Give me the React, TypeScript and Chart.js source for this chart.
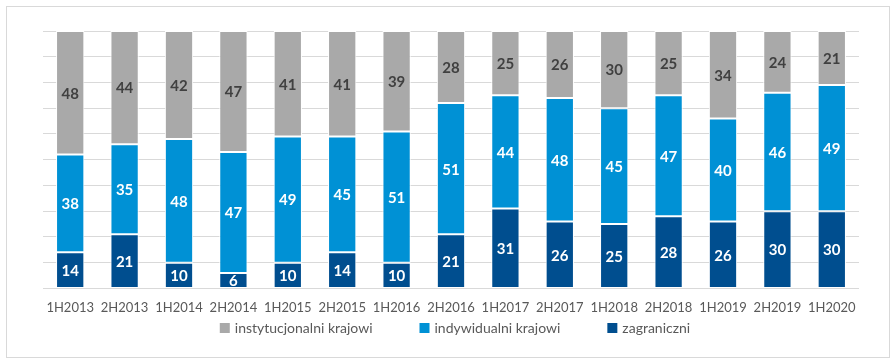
import React, { useEffect, useRef } from "react";
import { Chart, registerables } from "chart.js";

Chart.register(...registerables);

const categories = ["1H2013","2H2013","1H2014","2H2014","1H2015","2H2015","1H2016","2H2016","1H2017","2H2017","1H2018","2H2018","1H2019","2H2019","1H2020"];
const zagraniczni = [14,21,10,6,10,14,10,21,31,26,25,28,26,30,30];
const indywidualni = [38,35,48,47,49,45,51,51,44,48,45,47,40,46,49];
const instytucjonalni = [48,44,42,47,41,41,39,28,25,26,30,25,34,24,21];

const seriesNames = ["zagraniczni", "indywidualni krajowi", "instytucjonalni krajowi"];
const seriesColors = ["#004E8F", "#0091D5", "#A9A9A9"];
const labelColors = ["#FFFFFF", "#FFFFFF", "#404040"];

const FONT = "Lato, 'Open Sans', sans-serif";

const frame = {
  id: "frame",
  beforeDraw(chart: any) {
    const c = chart.ctx;
    c.save();
    c.fillStyle = "#fff";
    c.fillRect(0, 0, chart.width, chart.height);
    c.strokeStyle = "#D9D9D9";
    c.lineWidth = 1;
    c.strokeRect(6.5, 6.5, 883, 351);
    c.restore();
  },
};

const labelsPlugin = {
  id: "barLabels",
  afterDatasetsDraw(chart: any) {
    const c = chart.ctx;
    c.save();
    c.font = `bold 15px ${FONT}`;
    c.textAlign = "center";
    c.textBaseline = "middle";
    chart.data.datasets.forEach((ds: any, i: number) => {
      const meta = chart.getDatasetMeta(i);
      meta.data.forEach((el: any, j: number) => {
        const v = ds.data[j];
        c.fillStyle = labelColors[i];
        c.fillText(String(v), el.x, (el.y + el.base) / 2 + 1);
      });
    });
    c.restore();
  },
};

const legendPlugin = {
  id: "customLegend",
  afterDraw(chart: any) {
    const c = chart.ctx;
    const ds = chart.data.datasets.slice().reverse();
    c.save();
    c.font = `14px ${FONT}`;
    c.textBaseline = "middle";
    const box = 10, gapBox = 5, gapItem = 47;
    const widths = ds.map((d: any) => box + gapBox + c.measureText(d.label).width);
    const total = widths.reduce((a: number, b: number) => a + b, 0) + gapItem * (ds.length - 1);
    const area = chart.chartArea;
    let x = (area.left + area.right) / 2 - total / 2 + 4;
    const y = 328;
    ds.forEach((d: any, i: number) => {
      c.fillStyle = d.backgroundColor;
      c.fillRect(x, y - box / 2, box, box);
      c.fillStyle = "#595959";
      c.fillText(d.label, x + box + gapBox, y);
      x += widths[i] + gapItem;
    });
    c.restore();
  },
};

export default function App() {
  const ref = useRef<HTMLCanvasElement>(null);
  useEffect(() => {
    document.body.style.margin = "0";
    const chart = new Chart(ref.current!, {
      type: "bar",
      data: {
        labels: categories,
        datasets: [zagraniczni, indywidualni, instytucjonalni].map((d, i) => ({
          label: seriesNames[i],
          data: d,
          backgroundColor: seriesColors[i],
          borderColor: "#FFFFFF",
          borderWidth: 1,
          borderSkipped: false,
          categoryPercentage: 1,
          barPercentage: 0.52,
        })),
      },
      options: {
        animation: false,
        responsive: false,
        maintainAspectRatio: false,
        layout: { padding: { left: 43, right: 37, top: 31, bottom: 44 } },
        plugins: {
          legend: { display: false },
          tooltip: { enabled: false },
        },
        scales: {
          x: {
            stacked: true,
            grid: { display: false },
            border: { display: false },
            ticks: { color: "#595959", font: { family: FONT, size: 13 }, padding: 4, maxRotation: 0 },
          },
          y: {
            stacked: true,
            min: 0,
            max: 100,
            grid: { color: "#D9D9D9", drawTicks: false },
            border: { display: false },
            ticks: { display: false, stepSize: 10 },
          },
        },
      },
      plugins: [frame, labelsPlugin, legendPlugin],
    } as any);
    return () => chart.destroy();
  }, []);
  return <canvas ref={ref} width={896} height={364} style={{ display: "block" }} />;
}
